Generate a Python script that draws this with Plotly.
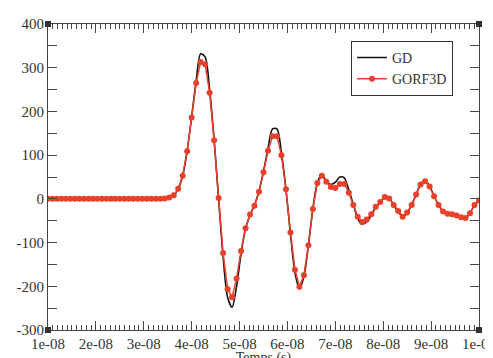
import plotly.graph_objects as go

# sample index grid (time step 0.9375 ns from 1e-8 s to 1e-7 s)
step_ns = 0.9375
n_pts = 97
time_s = [(10 + step_ns * k) * 1e-9 for k in range(n_pts)]

# GORF3D values, k = 0..96
gorf3d = [0] * 26 + [
    1, 3, 8, 23, 53, 109, 186, 265, 313, 308,
    243, 134, 2, -124, -206, -225, -182, -119, -67, -36,
    -16, 16, 61, 110, 143, 143, 100, 22, -77, -162,
    -201, -175, -106, -23, 36, 53, 39, 27, 25, 34,
    34, 14, -14, -41, -53, -47, -35, -18, -7, 4,
    1, -14, -28, -41, -31, -14, 10, 33, 40, 28,
    6, -14, -29, -34, -35, -38, -42, -44, -33, -14,
    -4,
]

# GD values, k = 0..96
gd = [0] * 26 + [
    1, 3, 8, 23, 53, 110, 188, 270, 332, 324,
    250, 135, 0, -132, -225, -248, -200, -125, -68, -37,
    -14, 18, 63, 115, 160, 160, 105, 22, -80, -168,
    -206, -178, -106, -22, 37, 56, 40, 33, 38, 50,
    48, 20, -12, -45, -58, -52, -38, -20, -8, 3,
    1, -14, -30, -40, -32, -14, 10, 34, 42, 29,
    6, -14, -29, -34, -36, -39, -42, -44, -33, -14,
    -4,
]

x_tickvals = [1e-8, 2e-8, 3e-8, 4e-8, 5e-8, 6e-8, 7e-8, 8e-8, 9e-8, 1e-7]
x_ticktext = ["1e-08", "2e-08", "3e-08", "4e-08", "5e-08", "6e-08", "7e-08", "8e-08", "9e-08", "1e-07"]
y_tickvals = [-300, -200, -100, 0, 100, 200, 300, 400]
y_ticktext = ["-300", "-200", "-100", "0", "100", "200", "300", "400"]

RED = "#e8402a"
FONT = "Times New Roman, Liberation Serif, serif"
AXC = "#444444"

fig = go.Figure()
fig.add_trace(go.Scatter(
    x=time_s, y=gd, name="GD", mode="lines",
    line=dict(color="#111111", width=1.6, shape="spline", smoothing=0.8),
))
fig.add_trace(go.Scatter(
    x=time_s, y=gorf3d, name="GORF3D", mode="lines+markers",
    line=dict(color=RED, width=1.5),
    marker=dict(color=RED, size=6),
))

fig.update_layout(
    width=493, height=358,
    margin=dict(l=40, r=4, t=16, b=25),
    paper_bgcolor="white", plot_bgcolor="white",
    font=dict(family=FONT, size=14, color="#333333"),
    showlegend=True,
    legend=dict(
        x=0.703, y=0.945, xanchor="left", yanchor="top",
        bgcolor="white", bordercolor="#333333", borderwidth=1,
        font=dict(family=FONT, size=14, color="#333333"),
        tracegroupgap=0, itemwidth=30,
    ),
    xaxis=dict(
        range=[1e-8, 1e-7], tickmode="array",
        tickvals=x_tickvals, ticktext=x_ticktext,
        ticks="inside", ticklen=9, tickwidth=1, tickcolor=AXC,
        minor=dict(ticks="inside", ticklen=5, tickcolor=AXC, tickmode="linear",
                   tick0=1e-8, dtick=1e-9, showgrid=False),
        showline=True, linecolor=AXC, linewidth=1, mirror="allticks",
        showgrid=False, zeroline=False, ticklabeloverflow="allow",
        title=dict(text="Temps (s)", standoff=0, font=dict(family=FONT, size=14)),
        tickfont=dict(family=FONT, size=15),
    ),
    yaxis=dict(
        range=[-300, 400], tickmode="array",
        tickvals=y_tickvals, ticktext=y_ticktext,
        ticks="inside", ticklen=9, tickwidth=1, tickcolor=AXC,
        minor=dict(ticks="inside", ticklen=9, tickcolor=AXC, tickmode="linear",
                   tick0=-300, dtick=50, showgrid=False),
        showline=True, linecolor=AXC, linewidth=1, mirror="allticks",
        showgrid=False, zeroline=False, ticklabeloverflow="allow",
        tickfont=dict(family=FONT, size=15),
    ),
)

# small corner squares (frame decoration)
for cx, cy in [(0, 0), (1, 0), (0, 1), (1, 1)]:
    fig.add_shape(
        type="rect", xref="paper", yref="paper",
        xsizemode="pixel", ysizemode="pixel", xanchor=cx, yanchor=cy,
        x0=-3, x1=3, y0=-3, y1=3,
        fillcolor="#333333", line=dict(width=0),
    )

fig.write_html("out.html")
